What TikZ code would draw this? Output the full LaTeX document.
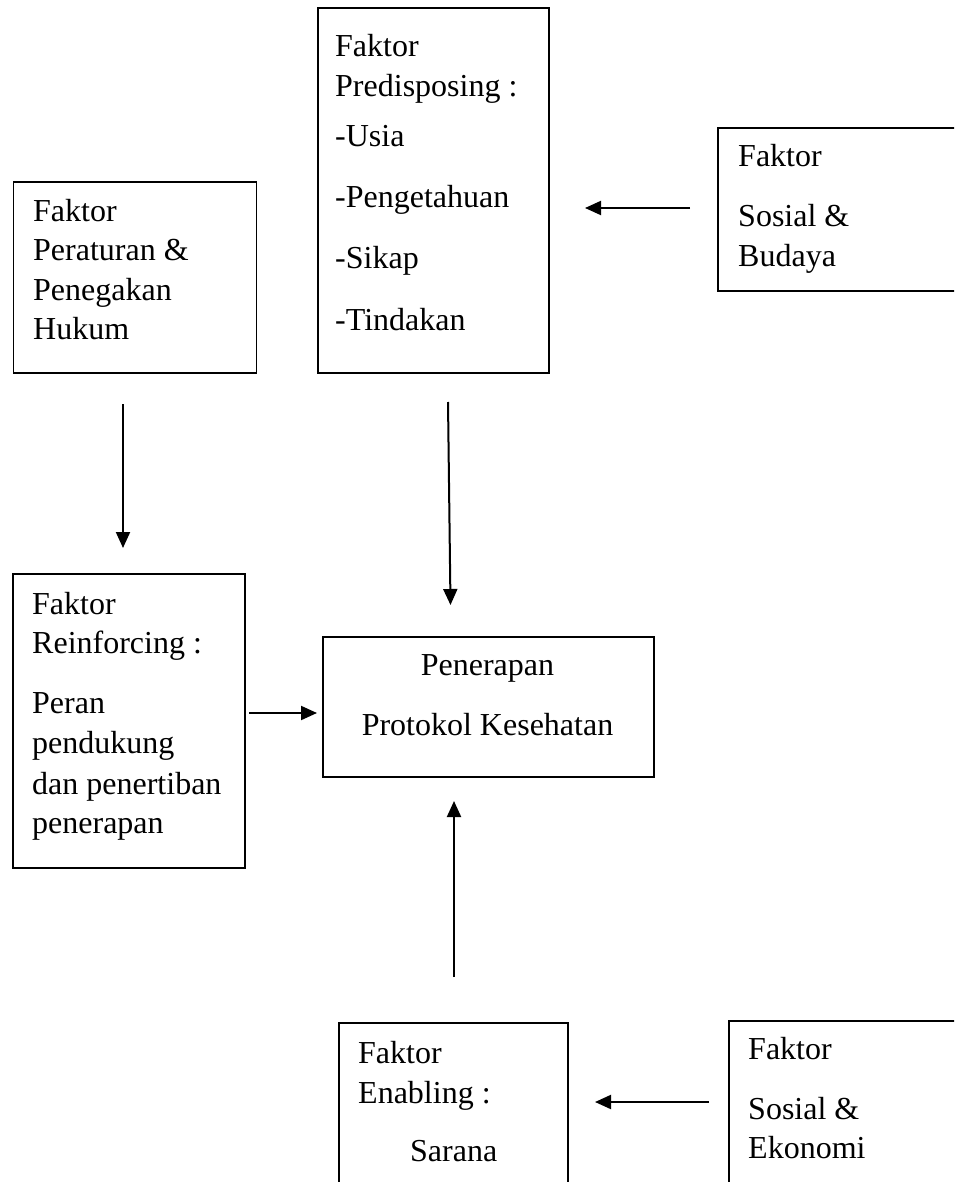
\documentclass[tikz,border=0pt]{standalone}
\usepackage{fontspec}
\setmainfont{Liberation Serif}
\usetikzlibrary{arrows.meta}
\begin{document}
\begin{tikzpicture}[x=1pt,y=-1pt,
  box/.style={draw=black,line width=1.7pt,inner sep=0pt,anchor=north west},
  txt/.style={inner sep=0pt,anchor=base west,font=\fontsize{32}{40}\selectfont},
  ctxt/.style={inner sep=0pt,anchor=base,font=\fontsize{32}{40}\selectfont},
  arr/.style={line width=2pt,-{Triangle[length=16pt,width=14pt]}}]
\useasboundingbox (0,0) rectangle (954,1182);
\clip (0,0) rectangle (954,1182);
% boxes
\node[box,minimum width=231pt,minimum height=365pt] (pred) at (317,7) {};
\node[box,minimum width=300pt,minimum height=163pt] (sb) at (717,127) {};
\node[box,minimum width=243pt,minimum height=191pt] (ph) at (12.5,181) {};
\node[box,minimum width=232pt,minimum height=294pt] (reinf) at (12,573) {};
\node[box,minimum width=331pt,minimum height=140pt] (pen) at (322,636) {};
\node[box,minimum width=229pt,minimum height=250pt] (enab) at (338,1022) {};
\node[box,minimum width=300pt,minimum height=250pt] (se) at (728,1020) {};
% texts: predisposing
\node[txt] (p1) at (335,57) {Faktor};
\node[txt] (p2) at (335,97) {Predisposing :};
\node[txt] (p3) at (335,147) {-Usia};
\node[txt] (p4) at (335,208) {-Pengetahuan};
\node[txt] (p5) at (335,269) {-Sikap};
\node[txt] (p6) at (335,330) {-Tindakan};
% sosial budaya
\node[txt] (s1) at (738,167) {Faktor};
\node[txt] (s2) at (738,227) {Sosial \&};
\node[txt] (s3) at (738,266) {Budaya};
% peraturan
\node[txt] (h1) at (33,222) {Faktor};
\node[txt] (h2) at (33,261) {Peraturan \&};
\node[txt] (h3) at (33,300) {Penegakan};
\node[txt] (h4) at (33,339) {Hukum};
% reinforcing
\node[txt] (r1) at (32,614) {Faktor};
\node[txt] (r2) at (32,653) {Reinforcing :};
\node[txt] (r3) at (32,713) {Peran};
\node[txt] (r4) at (32,753) {pendukung};
\node[txt] (r5) at (32,794) {dan penertiban};
\node[txt] (r6) at (32,833) {penerapan};
% penerapan
\node[ctxt] (c1) at (487.5,675) {Penerapan};
\node[ctxt] (c2) at (487.5,735) {Protokol Kesehatan};
% enabling
\node[txt] (e1) at (358,1063) {Faktor};
\node[txt] (e2) at (358,1103) {Enabling :};
\node[txt] (e3) at (410,1161) {Sarana};
% sosial ekonomi
\node[txt] (k1) at (748,1059) {Faktor};
\node[txt] (k2) at (748,1119) {Sosial \&};
\node[txt] (k3) at (748,1158) {Ekonomi};
% connector end points
\coordinate (a1s) at (690,208);
\coordinate (a1e) at (585,208);
\coordinate (a2s) at (123,404);
\coordinate (a2e) at (123,548);
\coordinate (a3s) at (448,402);
\coordinate (a3e) at (450.5,605);
\coordinate (a4s) at (249,713);
\coordinate (a4e) at (317,713);
\coordinate (a5s) at (454,977);
\coordinate (a5e) at (454,801);
\coordinate (a6s) at (709,1102);
\coordinate (a6e) at (595,1102);
\draw[arr] (a1s) -- (a1e);
\draw[arr] (a2s) -- (a2e);
\draw[arr] (a3s) -- (a3e);
\draw[arr] (a4s) -- (a4e);
\draw[arr] (a5s) -- (a5e);
\draw[arr] (a6s) -- (a6e);
\end{tikzpicture}
\end{document}
